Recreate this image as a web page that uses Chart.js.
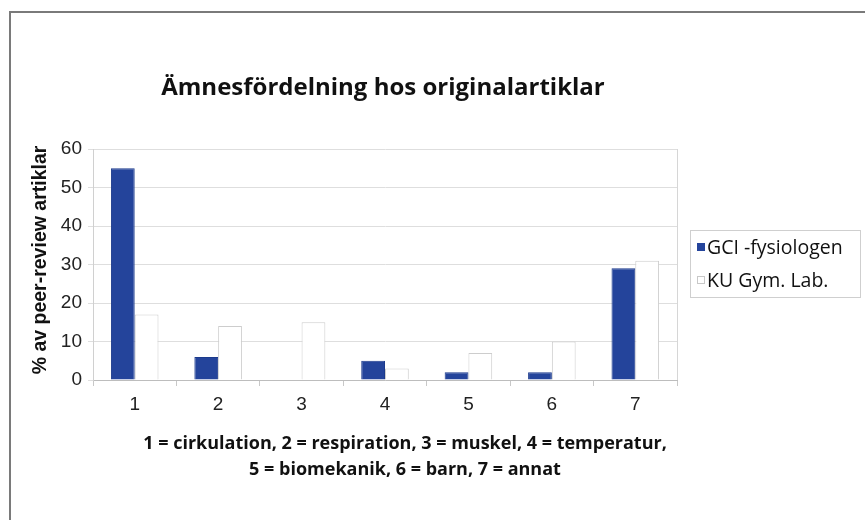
<!DOCTYPE html>
<html><head><meta charset="utf-8">
<script src="https://cdn.jsdelivr.net/npm/chart.js@4.4.1/dist/chart.umd.min.js"></script>
<style>
html,body{margin:0;padding:0;background:#fff;}
#wrap{position:relative;width:865px;height:520px;}
#frame{position:absolute;left:9px;top:11px;width:870px;height:520px;border-left:2px solid #7a7a7a;border-top:2px solid #7a7a7a;}
canvas{position:absolute;left:0;top:0;}
</style></head>
<body><div id="wrap"><div id="frame"></div><canvas id="c" width="865" height="520"></canvas></div>
<script>
const categories = ['1','2','3','4','5','6','7'];
const gciValues = [55, 6, 0, 5, 2, 2, 29];
const kuValues = [17, 14, 15, 3, 7, 10, 31];
const seriesNames = ['GCI -fysiologen', 'KU Gym. Lab.'];
const yTicks = [0, 10, 20, 30, 40, 50, 60];
const chartTitle = 'Ämnesfördelning hos originalartiklar';
const yTitle = '% av peer-review artiklar';
const captionLines = ['1 = cirkulation, 2 = respiration, 3 = muskel, 4 = temperatur,', '5 = biomekanik, 6 = barn, 7 = annat'];

const BLUE = '#24449b';
const HUM = '"Open Sans", "Noto Sans", sans-serif';
const ARIAL = '"Liberation Sans", Arial, sans-serif';

const decor = {
  id: 'decor',
  afterDraw(chart) {
    const ctx = chart.ctx, ca = chart.chartArea;
    ctx.save();
    ctx.strokeStyle = '#d6d6d6'; ctx.lineWidth = 1;
    ctx.beginPath(); ctx.moveTo(ca.right + 0.5, ca.top); ctx.lineTo(ca.right + 0.5, ca.bottom); ctx.stroke();
    ctx.fillStyle = '#111';
    ctx.textAlign = 'center'; ctx.textBaseline = 'middle';
    ctx.font = 'bold 24px ' + HUM;
    ctx.fillText(chartTitle, 383, 88);
    ctx.font = 'bold 18px ' + HUM;
    ctx.fillText(captionLines[0], 405, 444);
    ctx.fillText(captionLines[1], 405, 470);
    ctx.save();
    ctx.translate(41, 260); ctx.rotate(-Math.PI / 2);
    ctx.font = 'bold 19.5px ' + ARIAL;
    ctx.fillText(yTitle, 0, 0);
    ctx.restore();
    ctx.strokeStyle = '#cfcfcf'; ctx.lineWidth = 1;
    ctx.strokeRect(690.5, 230.5, 170, 67);
    ctx.textAlign = 'left';
    ctx.font = '19.5px ' + HUM;
    const items = [[BLUE, null], ['#ffffff', '#c8c8c8']];
    items.forEach((it, i) => {
      const y = 247 + i * 33;
      ctx.fillStyle = it[0];
      ctx.fillRect(697, y - 4, 8, 8);
      if (it[1]) { ctx.strokeStyle = it[1]; ctx.strokeRect(697.5, y - 3.5, 7, 7); }
      ctx.fillStyle = '#111';
      ctx.fillText(seriesNames[i], 707, y + 1);
    });
    ctx.restore();
  }
};

new Chart(document.getElementById('c'), {
  type: 'bar',
  data: {
    labels: categories,
    datasets: [
      { label: seriesNames[0], data: gciValues, backgroundColor: BLUE, borderColor: '#1b3a8c', borderWidth: 1 },
      { label: seriesNames[1], data: kuValues, backgroundColor: '#ffffff', borderColor: '#cdcdcd', borderWidth: 1 }
    ]
  },
  options: {
    responsive: false,
    animation: false,
    events: [],
    layout: { padding: { left: 0, top: 149, right: 188, bottom: 100 } },
    datasets: { bar: { categoryPercentage: 0.57, barPercentage: 1.0 } },
    plugins: { legend: { display: false }, title: { display: false }, tooltip: { enabled: false } },
    scales: {
      x: {
        afterFit(s) { s.height = 40; },
        grid: { display: true, drawOnChartArea: false, offset: true, tickLength: 6, color: '#c8c8c8' },
        border: { color: '#bdbdbd' },
        ticks: { color: '#222', font: { family: ARIAL, size: 19 }, padding: 7 }
      },
      y: {
        min: 0, max: 60,
        afterFit(s) { s.width = 93; },
        afterBuildTicks(s) { s.ticks = yTicks.map(v => ({ value: v })); },
        grid: { color: '#dedede', tickLength: 5 },
        border: { color: '#d0d0d0' },
        ticks: { color: '#222', font: { family: ARIAL, size: 19 }, padding: 6 }
      }
    }
  },
  plugins: [decor]
});
</script></body></html>
